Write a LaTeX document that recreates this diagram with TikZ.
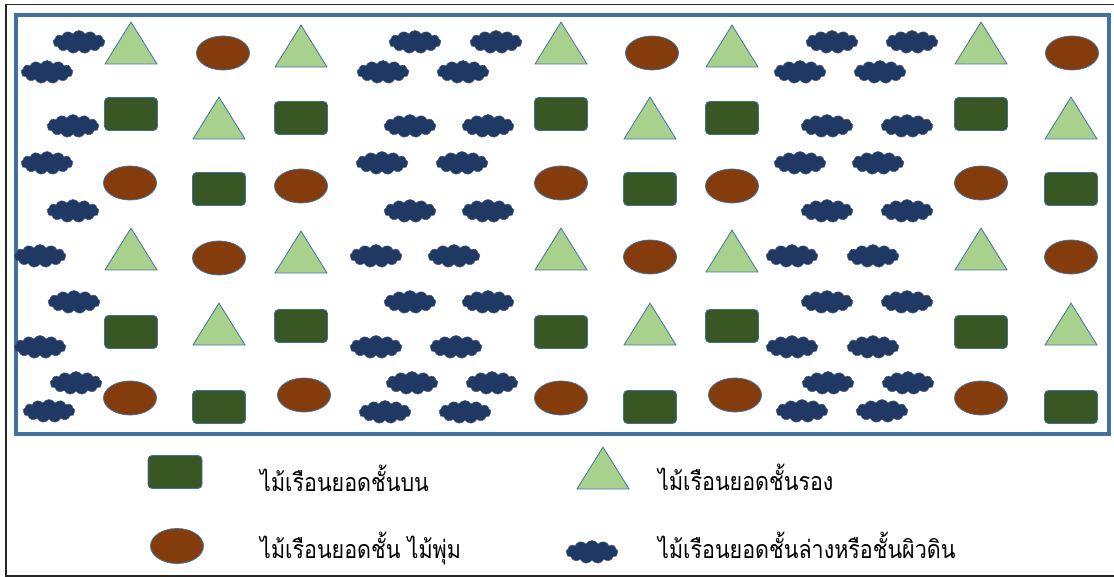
\documentclass[tikz,border=0pt]{standalone}
\usepackage{fontspec}
\newfontfamily\thaifont[Script=Thai, FakeStretch=0.86]{Loma}
\usetikzlibrary{positioning}
\usetikzlibrary{shapes.geometric, shapes.symbols}
\definecolor{frameblue}{HTML}{41719C}
\definecolor{upgreen}{HTML}{385723}
\definecolor{midgreen}{HTML}{A9D18E}
\definecolor{shrubbrown}{HTML}{843C0C}
\definecolor{groundblue}{HTML}{203864}
\tikzset{
	canopy/.style={draw=frameblue, line width=0.8pt, rectangle, rounded corners=4pt, minimum width=53pt, minimum height=33pt, inner sep=0pt, fill=upgreen},
	subcanopy/.style={draw=frameblue, line width=0.8pt, regular polygon, regular polygon sides=3, minimum size=60pt, yscale=0.93, inner sep=0pt, fill=midgreen},
	shrub/.style={draw=frameblue, line width=0.8pt, ellipse, minimum width=53pt, minimum height=34pt, inner sep=0pt, fill=shrubbrown},
	% ground layer puffs
	groundcover/.style={cloud, cloud puffs=13, cloud puff arc=120, aspect=2.3, minimum width=52pt, minimum height=23pt, inner sep=0pt, fill=groundblue, draw=groundblue!80!white, line width=0.5pt},
	legtext/.style={anchor=base west, inner sep=0pt, font=\thaifont\fontsize{25}{28}\selectfont},
}

\begin{document}
\begin{tikzpicture}[x=1pt, y=-1pt]
	\useasboundingbox (0,0) rectangle (1114,577);
	\node (outer) [draw=black!85, line width=1.5pt, rectangle, minimum width=1120pt, minimum height=571pt, anchor=north west] at (5,4) {};
	\node (field) [draw=frameblue, line width=4pt, rectangle, minimum width=1093pt, minimum height=418pt, anchor=north west] at (14,13.5) {};
	
	% left block
	\node (t1) [subcanopy] at (131,50) {};
	\node (o1) [shrub] at (223,53) {};
	\node (t2) [subcanopy] at (301,53) {};
	
	\node (r1) [canopy] at (131,114) {};
	\node (t3) [subcanopy] at (219,125) {};
	\node (r2) [canopy] at (301,118) {};
	
	\node (o2) [shrub] at (130,183) {};
	\node (r3) [canopy] at (219,189) {};
	\node (o3) [shrub] at (301,186) {};
	
	\node (t4) [subcanopy] at (131,256) {};
	\node (o4) [shrub] at (219,258) {};
	\node (t5) [subcanopy] at (301,259) {};
	
	\node (r4) [canopy] at (131,332) {};
	\node (t6) [subcanopy] at (219,331) {};
	\node (r5) [canopy] at (301,326) {};
	
	\node (o5) [shrub] at (130,398) {};
	\node (r6) [canopy] at (219,407) {};
	\node (o6) [shrub] at (304,395) {};
	
	% middle block
	\node (t7) [subcanopy] at (561,50) {};
	\node (o7) [shrub] at (652,53) {};
	\node (t8) [subcanopy] at (732,53) {};
	
	\node (r7) [canopy] at (561,114) {};
	\node (t9) [subcanopy] at (650,125) {};
	\node (r8) [canopy] at (732,118) {};
	
	\node (o8) [shrub] at (561,183) {};
	\node (r9) [canopy] at (650,189) {};
	\node (o9) [shrub] at (732,186) {};
	
	\node (t10) [subcanopy] at (561,256) {};
	\node (o10) [shrub] at (650,257) {};
	\node (t11) [subcanopy] at (732,258) {};
	
	\node (r10) [canopy] at (561,332) {};
	\node (t12) [subcanopy] at (650,331) {};
	\node (r11) [canopy] at (732,326) {};
	
	\node (o11) [shrub] at (561,398) {};
	\node (r12) [canopy] at (650,407) {};
	\node (o12) [shrub] at (735,395) {};
	
	% right block
	\node (t13) [subcanopy] at (981,50) {};
	\node (o13) [shrub] at (1072,53) {};
	
	\node (r13) [canopy] at (981,114) {};
	\node (t14) [subcanopy] at (1071,125) {};
	
	\node (o14) [shrub] at (981,183) {};
	\node (r14) [canopy] at (1071,189) {};
	
	\node (t15) [subcanopy] at (981,256) {};
	\node (o15) [shrub] at (1071,257) {};
	
	\node (r15) [canopy] at (981,332) {};
	\node (t16) [subcanopy] at (1071,331) {};
	
	\node (o16) [shrub] at (981,398) {};
	\node (r16) [canopy] at (1071,407) {};
	
	% ground cover, left
	\node (g1) [groundcover] at (79,42) {};
	\node (g2) [groundcover] at (47,72) {};
	\node (g3) [groundcover] at (73,126) {};
	\node (g4) [groundcover] at (47,163) {};
	\node (g5) [groundcover] at (73,211) {};
	\node (g6) [groundcover] at (40,256) {};
	\node (g7) [groundcover] at (74,302) {};
	\node (g8) [groundcover] at (40,347) {};
	\node (g9) [groundcover] at (76,383) {};
	\node (g10) [groundcover] at (49,411) {};
	
	% ground cover, middle
	\node (g11) [groundcover] at (415,42) {};
	\node (g12) [groundcover] at (496,42) {};
	\node (g13) [groundcover] at (383,72) {};
	\node (g14) [groundcover] at (463,72) {};
	\node (g15) [groundcover] at (410,126) {};
	\node (g16) [groundcover] at (488,126) {};
	\node (g17) [groundcover] at (382,163) {};
	\node (g18) [groundcover] at (462,163) {};
	\node (g19) [groundcover] at (410,211) {};
	\node (g20) [groundcover] at (488,211) {};
	\node (g21) [groundcover] at (376,256) {};
	\node (g22) [groundcover] at (454,256) {};
	\node (g23) [groundcover] at (410,302) {};
	\node (g24) [groundcover] at (488,302) {};
	\node (g25) [groundcover] at (376,347) {};
	\node (g26) [groundcover] at (456,347) {};
	\node (g27) [groundcover] at (412,383) {};
	\node (g28) [groundcover] at (492,383) {};
	\node (g29) [groundcover] at (385,412) {};
	\node (g30) [groundcover] at (465,412) {};
	
	% ground cover, right
	\node (g31) [groundcover] at (832,42) {};
	\node (g32) [groundcover] at (912,42) {};
	\node (g33) [groundcover] at (800,72) {};
	\node (g34) [groundcover] at (880,72) {};
	\node (g35) [groundcover] at (827,126) {};
	\node (g36) [groundcover] at (907,126) {};
	\node (g37) [groundcover] at (800,163) {};
	\node (g38) [groundcover] at (878,163) {};
	\node (g39) [groundcover] at (827,211) {};
	\node (g40) [groundcover] at (907,211) {};
	\node (g41) [groundcover] at (792,256) {};
	\node (g42) [groundcover] at (873,256) {};
	\node (g43) [groundcover] at (827,302) {};
	\node (g44) [groundcover] at (907,302) {};
	\node (g45) [groundcover] at (792,347) {};
	\node (g46) [groundcover] at (873,347) {};
	\node (g47) [groundcover] at (828,383) {};
	\node (g48) [groundcover] at (908,383) {};
	\node (g49) [groundcover] at (802,411) {};
	\node (g50) [groundcover] at (882,411) {};
	
	% legend
	\node (lr) [canopy, minimum width=54pt] at (175,472) {};
	\node (lt) [subcanopy] at (603,475) {};
	\node (lo) [shrub, minimum height=35pt] at (177,546) {};
	\node (lg) [groundcover] at (592,552) {};
	
	\node (lrtext) [legtext] at (260,491) {ไม้เรือนยอดชั้นบน};
	\node (lttext) [legtext] at (658,490) {ไม้เรือนยอดชั้นรอง};
	\node (lotext) [legtext] at (260,558) {ไม้เรือนยอดชั้น ไม้พุ่ม};
	\node (lgtext) [legtext] at (658,558) {ไม้เรือนยอดชั้นล่างหรือชั้นผิวดิน};
	
\end{tikzpicture}
\end{document}
